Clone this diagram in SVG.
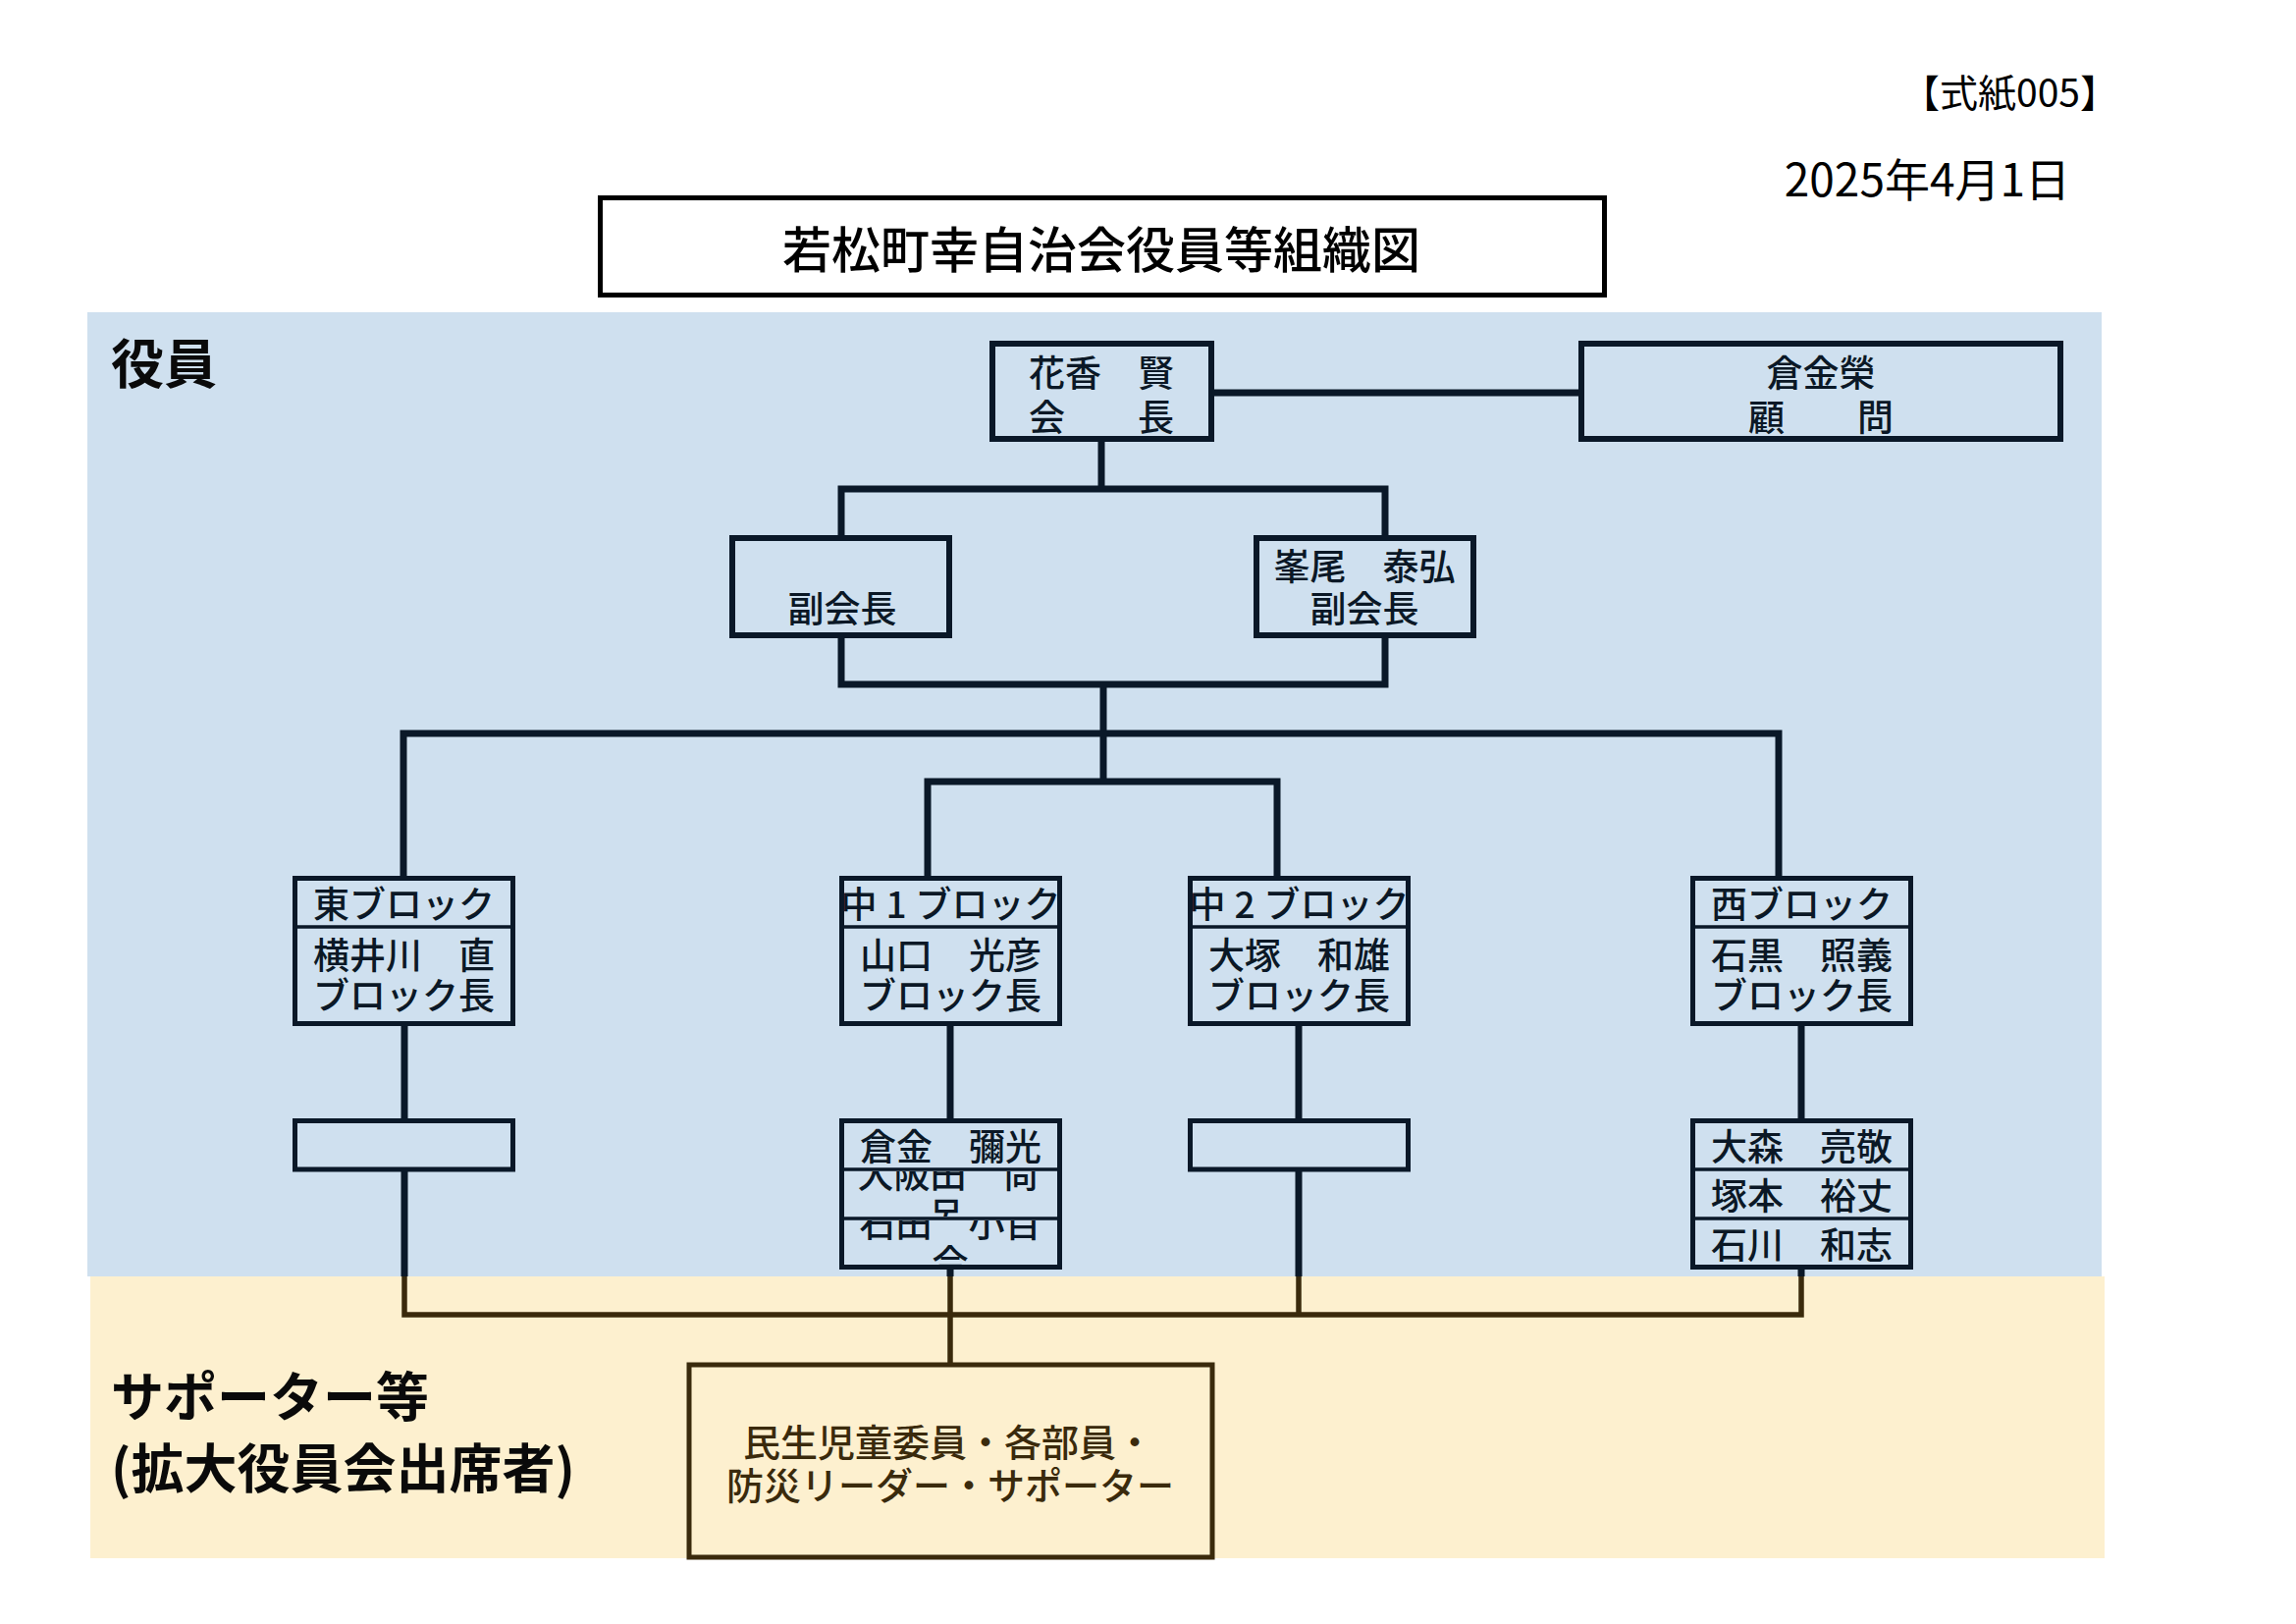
<svg xmlns="http://www.w3.org/2000/svg" width="2339" height="1654" viewBox="0 0 2339 1654">
<style>
text{font-family:"Noto Sans CJK JP","Noto Sans CJK SC",sans-serif;dominant-baseline:central;}
.m{text-anchor:middle;}
.t{font-size:37px;font-weight:500;fill:#0b1826;}
.tl{font-size:37px;font-weight:500;fill:#0b1826;}
.sec{font-size:54px;font-weight:bold;fill:#0a0a0a;}
.bx{fill:none;stroke:#0a1828;stroke-width:6;}
.bk{fill:none;stroke:#0a1828;stroke-width:5;}
.dv{stroke:#0a1828;stroke-width:3.5;}
.ln{fill:none;stroke:#0a1828;stroke-width:7;}
.lb{fill:none;stroke:#3a2a0c;stroke-width:5.5;}
</style>
<defs>
<clipPath id="c1h"><rect x="860" y="897" width="217" height="45"/></clipPath>
<clipPath id="c2h"><rect x="1215" y="897" width="217" height="45"/></clipPath>
<clipPath id="c1r2"><rect x="860" y="1193" width="217" height="46"/></clipPath>
<clipPath id="c1r3"><rect x="860" y="1243" width="217" height="45"/></clipPath>
</defs>
<rect x="0" y="0" width="2339" height="1654" fill="#ffffff"/>
<g id="backgrounds">
<rect x="89" y="318" width="2052" height="982" fill="#cfe0ef"/>
<rect x="92" y="1300" width="2052" height="287" fill="#fdf0cf"/>
</g>
<g id="header">
<text x="2158" y="92" font-size="39" text-anchor="end" fill="#000">【式紙005】</text>
<text x="2109" y="180" font-size="46" text-anchor="end" fill="#000">2025年4月1日</text>
</g>
<g id="title">
<rect x="611.5" y="201.5" width="1023" height="99" fill="#ffffff" stroke="#000" stroke-width="5"/>
<text x="1122" y="251" font-size="50" font-weight="500" class="m" fill="#000">若松町幸自治会役員等組織図</text>
</g>
<g id="section-labels">
<text x="113" y="367" class="sec">役員</text>
<text x="113" y="1419" class="sec">サポーター等</text>
<text x="113" y="1492" class="sec">(拡大役員会出席者)</text>
</g>
<g id="connectors">
<path class="ln" d="M1234,400 H1611"/>
<path class="ln" d="M1122,447 V498"/>
<path class="ln" d="M857,548 V498 H1411 V548"/>
<path class="ln" d="M857,647 V697 H1411 V647"/>
<path class="ln" d="M1124,697 V796"/>
<path class="ln" d="M411,894 V747 H1812 V894"/>
<path class="ln" d="M945,894 V796 H1301 V894"/>
<path class="ln" d="M412,1043 V1141 M968,1043 V1141 M1323,1043 V1141 M1835,1043 V1141"/>
<path class="ln" d="M412,1191 V1300 M1323,1191 V1300 M968,1290 V1300 M1835,1290 V1300"/>
<path class="lb" d="M412,1300 V1339 H1835 V1300 M1323,1300 V1339 M968,1300 V1390"/>
</g>
<g id="node-kaicho">
<rect class="bx" x="1011" y="350" width="223" height="97"/>
<text class="t m" x="1122" y="378">花香　賢</text>
<text class="t m" x="1122" y="423">会　　長</text>
</g>
<g id="node-komon">
<rect class="bx" x="1611" y="350" width="488" height="97"/>
<text class="t m" x="1855" y="378">倉金榮</text>
<text class="t m" x="1855" y="423">顧　　問</text>
</g>
<g id="node-fukukaicho-1">
<rect class="bx" x="746" y="548" width="221" height="99"/>
<text class="t m" x="858" y="618">副会長</text>
</g>
<g id="node-fukukaicho-2">
<rect class="bx" x="1280" y="548" width="221" height="99"/>
<text class="t m" x="1390" y="575">峯尾　泰弘</text>
<text class="t m" x="1390" y="618">副会長</text>
</g>
<g id="node-higashi">
<rect class="bk" x="300.5" y="894.5" width="222" height="148"/>
<line class="dv" x1="300" y1="944" x2="523" y2="944"/>
<text class="t m" x="411.5" y="919">東ブロック</text>
<text class="t m" x="411.5" y="971">横井川　直</text>
<text class="t m" x="411.5" y="1012">ブロック長</text>
</g>
<g id="node-naka1">
<rect class="bk" x="857.5" y="894.5" width="222" height="148"/>
<line class="dv" x1="857" y1="944" x2="1080" y2="944"/>
<text class="t m" x="968.5" y="919" clip-path="url(#c1h)">中<tspan dx="9">1</tspan><tspan dx="9">ブロック</tspan></text>
<text class="t m" x="968.5" y="971">山口　光彦</text>
<text class="t m" x="968.5" y="1012">ブロック長</text>
</g>
<g id="node-naka2">
<rect class="bk" x="1212.5" y="894.5" width="222" height="148"/>
<line class="dv" x1="1212" y1="944" x2="1435" y2="944"/>
<text class="t m" x="1323.5" y="919" clip-path="url(#c2h)">中<tspan dx="9">2</tspan><tspan dx="9">ブロック</tspan></text>
<text class="t m" x="1323.5" y="971">大塚　和雄</text>
<text class="t m" x="1323.5" y="1012">ブロック長</text>
</g>
<g id="node-nishi">
<rect class="bk" x="1724.5" y="894.5" width="222" height="148"/>
<line class="dv" x1="1724" y1="944" x2="1947" y2="944"/>
<text class="t m" x="1835.5" y="919">西ブロック</text>
<text class="t m" x="1835.5" y="971">石黒　照義</text>
<text class="t m" x="1835.5" y="1012">ブロック長</text>
</g>
<g id="node-higashi-sub">
<rect class="bk" x="300.5" y="1141.5" width="222" height="49.5"/>
</g>
<g id="node-naka1-sub">
<rect class="bk" x="857.5" y="1141.5" width="222" height="149"/>
<g clip-path="url(#c1r2)">
<text class="tl m" x="966" y="1194">大阪田　尚</text>
<text class="tl m" x="964" y="1236">呂</text>
</g>
<g clip-path="url(#c1r3)">
<text class="tl m" x="968" y="1244">石田　小百</text>
<text class="tl m" x="968" y="1284">合</text>
</g>
<line class="dv" x1="857" y1="1191" x2="1080" y2="1191"/>
<line class="dv" x1="857" y1="1241" x2="1080" y2="1241"/>
<text class="tl m" x="968.5" y="1166">倉金　彌光</text>
</g>
<g id="node-naka2-sub">
<rect class="bk" x="1212.5" y="1141.5" width="222" height="49.5"/>
</g>
<g id="node-nishi-sub">
<rect class="bk" x="1724.5" y="1141.5" width="222" height="149"/>
<line class="dv" x1="1724" y1="1191" x2="1947" y2="1191"/>
<line class="dv" x1="1724" y1="1241" x2="1947" y2="1241"/>
<text class="tl m" x="1835.5" y="1166">大森　亮敬</text>
<text class="tl m" x="1835.5" y="1216">塚本　裕丈</text>
<text class="tl m" x="1835.5" y="1266">石川　和志</text>
</g>
<g id="node-supporters">
<rect x="702" y="1390" width="533" height="196" fill="none" stroke="#3a2a0c" stroke-width="5"/>
<text class="m" x="966" y="1466" font-size="38" font-weight="500" fill="#3a2a0c">民生児童委員・各部員・</text>
<text class="m" x="968" y="1510" font-size="38" font-weight="500" fill="#3a2a0c">防災リーダー・サポーター</text>
</g>
</svg>
